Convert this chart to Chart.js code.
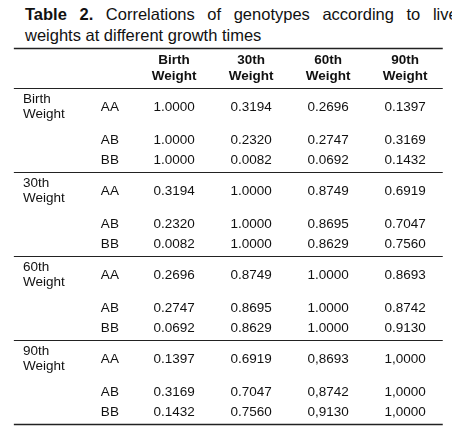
<!DOCTYPE html>
<html><head><meta charset="utf-8">
<script src="https://cdn.jsdelivr.net/npm/chart.js@4/dist/chart.umd.min.js"></script>
<style>
body{margin:0;background:#fff;overflow:hidden}
#wrap{position:relative;width:452px;height:437px;overflow:hidden}
#title{position:absolute;left:25px;top:4px;width:460px;font:16.5px "Liberation Sans",Arial,sans-serif;color:#111;line-height:21px;white-space:nowrap;word-spacing:8px}
canvas{position:absolute;left:0;top:0}
</style></head><body>
<div id="wrap">
<div id="title"><b>Table 2.</b> Correlations of genotypes according to live<br><span style="word-spacing:0">weights at different growth times</span></div>
<canvas id="c" width="452" height="437"></canvas>
</div>
<script>
const columns = [["Birth", "Weight"], ["30th", "Weight"], ["60th", "Weight"], ["90th", "Weight"]];
const groups = [["Birth", "Weight"], ["30th", "Weight"], ["60th", "Weight"], ["90th", "Weight"]];
const genotypes = ["AA", "AB", "BB"];
const values = [
  ["1.0000", "0.3194", "0.2696", "0.1397"],
  ["1.0000", "0.2320", "0.2747", "0.3169"],
  ["1.0000", "0.0082", "0.0692", "0.1432"],
  ["0.3194", "1.0000", "0.8749", "0.6919"],
  ["0.2320", "1.0000", "0.8695", "0.7047"],
  ["0.0082", "1.0000", "0.8629", "0.7560"],
  ["0.2696", "0.8749", "1.0000", "0.8693"],
  ["0.2747", "0.8695", "1.0000", "0.8742"],
  ["0.0692", "0.8629", "1.0000", "0.9130"],
  ["0.1397", "0.6919", "0,8693", "1,0000"],
  ["0.3169", "0.7047", "0,8742", "1,0000"],
  ["0.1432", "0.7560", "0,9130", "1,0000"]
];

const rowOffset = [0.9, 2.5, 3.45];
const FONT = '"Liberation Sans", Arial, sans-serif';

const tablePlugin = {
  id: 'table',
  afterDraw(chart) {
    const ctx = chart.ctx, x = chart.scales.x, y = chart.scales.y;
    const L = x.getPixelForValue(-2.08), R = x.getPixelForValue(3.49);
    ctx.save();
    ctx.strokeStyle = '#222';
    const hline = (u, w) => { const p = Math.round(y.getPixelForValue(u)) + 0.5; ctx.lineWidth = w; ctx.beginPath(); ctx.moveTo(L, p); ctx.lineTo(R, p); ctx.stroke(); };
    hline(-1.9, 1.5); hline(0, 1.2);
    for (let g = 1; g <= groups.length; g++) hline(g * 4, g === groups.length ? 1.5 : 1);
    ctx.fillStyle = '#111';
    ctx.textBaseline = 'middle';
    ctx.textAlign = 'center';
    ctx.font = 'bold 13.5px ' + FONT;
    columns.forEach((c, i) => {
      ctx.fillText(c[0], x.getPixelForValue(i), y.getPixelForValue(-1.3));
      ctx.fillText(c[1], x.getPixelForValue(i), y.getPixelForValue(-0.55));
    });
    ctx.font = '13.5px ' + FONT;
    values.forEach((row, r) => {
      const g = Math.floor(r / 3), k = r % 3;
      const py = y.getPixelForValue(g * 4 + rowOffset[k]);
      ctx.textAlign = 'center';
      row.forEach((v, i) => ctx.fillText(v, x.getPixelForValue(i), py));
      ctx.textAlign = 'left';
      ctx.fillText(genotypes[k], x.getPixelForValue(-0.95), py);
      if (k === 0) {
        ctx.fillText(groups[g][0], x.getPixelForValue(-1.96), py - 7.5);
        ctx.fillText(groups[g][1], x.getPixelForValue(-1.96), py + 7.5);
      }
    });
    ctx.restore();
  }
};

new Chart(document.getElementById('c'), {
  type: 'scatter',
  data: { datasets: [{ data: [], pointRadius: 0 }] },
  options: {
    responsive: false, animation: false,
    layout: { padding: 0 },
    plugins: { legend: { display: false }, tooltip: { enabled: false } },
    scales: {
      x: { type: 'linear', display: false, min: -2.26, max: 3.61 },
      y: { type: 'linear', display: false, reverse: true, min: -4.19, max: 16.62 }
    }
  },
  plugins: [tablePlugin]
});
</script>
</body></html>
